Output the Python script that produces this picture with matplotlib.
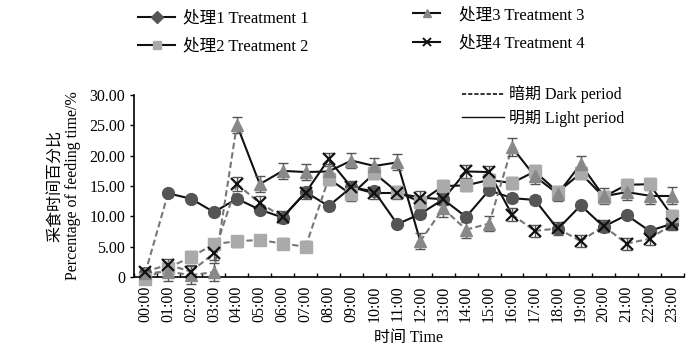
import matplotlib
matplotlib.use("Agg")
import matplotlib.pyplot as plt
from matplotlib.lines import Line2D
import numpy as np

plt.rcParams['font.family'] = ['Liberation Serif', 'Noto Sans CJK SC']

hours = ["00:00", "01:00", "02:00", "03:00", "04:00", "05:00", "06:00", "07:00",
         "08:00", "09:00", "10:00", "11:00", "12:00", "13:00", "14:00", "15:00",
         "16:00", "17:00", "18:00", "19:00", "20:00", "21:00", "22:00", "23:00"]

series_names = ["处理1 Treatment 1", "处理2 Treatment 2", "处理3 Treatment 3", "处理4 Treatment 4"]

t1 = [0.6, 13.8, 12.9, 10.7, 12.9, 11.1, 9.8, 14.0, 11.7, 14.8, 14.1, 8.7,
      10.4, 12.8, 9.9, 14.3, 13.0, 12.7, 7.9, 11.8, 8.3, 10.2, 7.6, 8.8]
t2 = [-0.3, 1.5, 3.3, 5.4, 5.9, 6.1, 5.5, 5.0, 16.2, 13.6, 17.1, 14.0,
      12.4, 15.0, 15.1, 16.0, 15.5, 17.4, 14.0, 17.1, 13.2, 15.2, 15.3, 10.0]
t3 = [0.6, 0.9, 0.3, 0.8, 25.1, 15.3, 17.5, 17.3, 17.4, 19.2, 18.3, 18.9,
      5.9, 11.3, 7.8, 8.8, 21.4, 16.6, 13.7, 18.6, 13.3, 14.0, 13.4, 13.4]
t4 = [0.9, 2.0, 0.9, 3.9, 15.3, 12.2, 9.9, 13.9, 19.4, 14.8, 13.8, 13.8,
      13.1, 12.8, 17.4, 17.3, 10.3, 7.6, 8.0, 5.9, 8.4, 5.5, 6.3, 8.7]

e1 = [0.4, 0.5, 0.5, 0.5, 0.6, 0.6, 0.8, 0.7, 0.6, 0.8, 0.7, 0.5,
      0.6, 0.7, 0.6, 0.7, 0.6, 0.6, 0.5, 0.6, 0.6, 0.5, 0.5, 0.6]
e2 = [0.7, 0.8, 0.9, 0.8, 0.9, 0.9, 0.9, 0.9, 1.0, 1.0, 1.0, 1.0,
      1.0, 1.0, 1.0, 1.0, 1.0, 1.0, 1.0, 1.0, 1.0, 1.0, 1.0, 1.0]
e3 = [0.8, 1.5, 1.5, 1.5, 1.3, 1.3, 1.3, 1.3, 1.3, 1.3, 1.3, 1.3,
      1.3, 1.4, 1.3, 1.3, 1.5, 1.3, 1.2, 1.4, 1.3, 1.3, 1.3, 1.4]
e4 = [0.6, 1.0, 1.0, 1.1, 1.2, 1.1, 1.0, 1.0, 1.1, 1.0, 1.0, 1.0,
      1.0, 1.0, 1.0, 1.0, 1.1, 1.0, 1.0, 1.0, 1.0, 1.0, 1.0, 1.0]

# 1 = dark period (dashed) segment from hour i to hour i+1
dark1 = [1] + [0] * 22
dark2 = [1] * 8 + [0] * 15
dark3 = [1] * 4 + [0] * 8 + [1] * 4 + [0] * 7
dark4 = [1] * 6 + [0] * 10 + [1] * 7

values = [t1, t2, t3, t4]
errors = [e1, e2, e3, e4]
darks = [dark1, dark2, dark3, dark4]
markers = ['o', 's', '^', 'x']
legend_markers = ['D', 's', '^', 'x']
mcolors = ['#555555', '#aaaaaa', '#888888', '#111111']
msizes = [8.5, 9, 9, 9]

fig = plt.figure(figsize=(7.0, 3.56), dpi=100)
ax = fig.add_axes([0.191, 0.222, 0.786, 0.511])

x = np.arange(len(hours))
for vals, errs, dk, mk, mc, ms in zip(values, errors, darks, markers, mcolors, msizes):
    for i in range(len(hours) - 1):
        if dk[i]:
            ax.plot(x[i:i + 2], vals[i:i + 2], color='#777777', lw=1.5,
                    ls=(0, (3, 1.6)), zorder=2, clip_on=False)
        else:
            ax.plot(x[i:i + 2], vals[i:i + 2], color='#111111', lw=1.5,
                    ls='-', zorder=2, clip_on=False)
    ax.errorbar(x, vals, yerr=errs, fmt='none', ecolor='#555555', elinewidth=1,
                capsize=3.5, capthick=1, zorder=3, clip_on=False)
    if mk == 'x':
        ax.plot(x, vals, ls='none', marker=mk, ms=ms, mec=mc, mew=1.6, zorder=4, clip_on=False)
    else:
        ax.plot(x, vals, ls='none', marker=mk, ms=ms, mfc=mc, mec=mc, zorder=4, clip_on=False)

ax.set_xlim(-0.5, len(hours) - 0.5)
ax.set_ylim(0, 30)
ax.set_yticks([0, 5, 10, 15, 20, 25, 30])
ax.set_yticklabels(['0', '5.00', '10.00', '15.00', '20.00', '25.00', '30.00'], fontsize=11.5)
ax.set_xticks(x)
ax.set_xticklabels(hours, rotation=90, fontsize=11.5)
ax.set_xticks(np.arange(-0.5, len(hours), 1.0), minor=True)
ax.tick_params(axis='x', which='major', length=0, pad=6)
ax.tick_params(axis='x', which='minor', direction='in', length=3, width=1)
ax.tick_params(axis='y', direction='out', length=3, width=1, pad=3)
ax.spines['top'].set_visible(False)
ax.spines['right'].set_visible(False)
ax.spines['left'].set_linewidth(1.2)
ax.spines['bottom'].set_linewidth(1.2)

ax.set_xlabel("时间 Time", fontsize=11.5, labelpad=6)
ax.set_ylabel("采食时间百分比\nPercentage of feeding time/%", fontsize=11.5, labelpad=6,
              linespacing=1.1)

handles = []
for name, mk, mc in zip(series_names, legend_markers, mcolors):
    if mk == 'x':
        handles.append(Line2D([], [], color='#111111', lw=1.5, marker=mk, ms=6,
                              mec=mc, mew=1.4, label=name))
    else:
        handles.append(Line2D([], [], color='#111111', lw=1.5, marker=mk, ms=6,
                              mfc=mc, mec=mc, label=name))

fig.legend(handles=handles[:2], loc='upper left', bbox_to_anchor=(0.176, 1.013), ncol=1,
           frameon=False, fontsize=12, handlelength=2.2, handletextpad=0.5,
           labelspacing=0.75)
fig.legend(handles=handles[2:], loc='upper left', bbox_to_anchor=(0.569, 1.022), ncol=1,
           frameon=False, fontsize=12, handlelength=1.6, handletextpad=1.15,
           labelspacing=0.75)

period_handles = [Line2D([], [], color='#111111', lw=1.2, ls=(0, (2.5, 1.2)), label="暗期 Dark period"),
                  Line2D([], [], color='#111111', lw=1.0, ls='-', label="明期 Light period")]
fig.legend(handles=period_handles, loc='upper left', bbox_to_anchor=(0.64, 0.8),
           frameon=False, fontsize=11.5, handlelength=2.6, handletextpad=0.3, labelspacing=0.4)

fig.savefig("out.png", dpi=100)
